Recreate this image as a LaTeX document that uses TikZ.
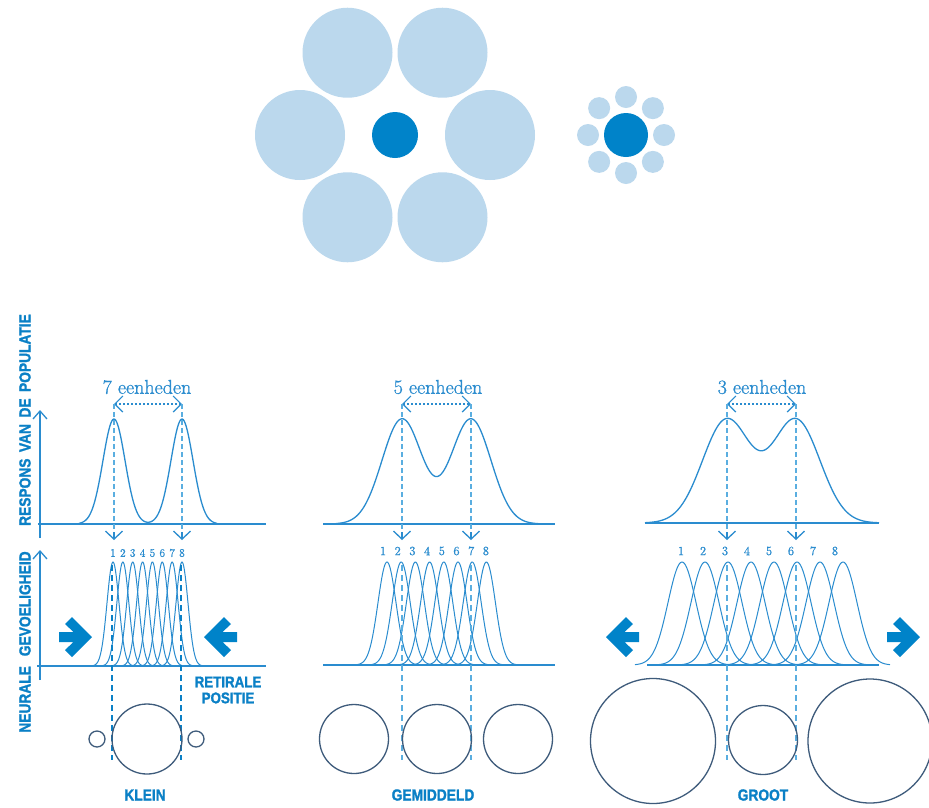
\documentclass[tikz,border=0pt]{standalone}
\usepackage{fontspec}
\newfontfamily\labfont[FakeStretch=0.86, BoldFeatures={FakeBold=1.4}]{Liberation Sans}
\newfontfamily\serfont[FakeBold=1]{Latin Modern Roman}
\usetikzlibrary{arrows.meta}
\definecolor{lightc}{HTML}{BBD8ED}
\definecolor{darkc}{HTML}{0083C9}
\definecolor{curveblue}{HTML}{2A8CCF}
\definecolor{labblue}{HTML}{0A80C6}
\definecolor{dashblue}{HTML}{5AAEE0}
\definecolor{ringc}{HTML}{3E5B7B}
\tikzset{
  curve/.style={curveblue, line width=1.3pt},
  lcurve/.style={curveblue, line width=1pt},
  axisline/.style={curveblue, line width=1.3pt},
  ring/.style={ringc, line width=1.3pt},
  axtip/.style={-{Straight Barb[length=8pt,width=14pt]}},
  dimarrow/.style={curveblue, line width=1.2pt, dash pattern=on 2pt off 2pt,
     {Straight Barb[length=8pt,width=16pt]}-{Straight Barb[length=8pt,width=16pt]}},
  vdash/.style={dashblue, line width=1.5pt, dash pattern=on 5pt off 3pt},
  ldash/.style={dashblue, line width=2pt, dash pattern=on 6pt off 4pt},
  kdash/.style={labblue, line width=2.5pt, dash pattern=on 6pt off 4pt},
  bigtxt/.style={font=\labfont\bfseries\fontsize{16}{16}\selectfont, text=labblue, inner sep=0pt},
  unittxt/.style={font=\serfont\fontsize{20}{20}\selectfont, text=curveblue, inner sep=0pt},
  numtxt/.style={font=\serfont\fontsize{12.5}{12.5}\selectfont, text=curveblue, inner sep=0pt},
  snumtxt/.style={font=\serfont\fontsize{11.5}{11.5}\selectfont, text=curveblue, inner sep=0pt},
  barrow/.pic={\fill[darkc] (0,0) -- (-20,-20) -- (-27,-13) -- (-18.5,-5) -- (-33,-5)
       -- (-33,5) -- (-18.5,5) -- (-27,13) -- (-20,20) -- cycle;}
}
\begin{document}
\begin{tikzpicture}[x=1pt,y=-1pt]
\useasboundingbox (0,0) rectangle (929,807);
\fill[white] (0,0) rectangle (929,807);

% ---------- Ebbinghaus illusion ----------
\foreach \a in {0,60,...,300}
  \fill[lightc] ({395+95*cos(\a)},{135-95*sin(\a)}) circle[radius=45pt];
\fill[darkc] (395,135) circle[radius=23pt];
\foreach \a in {0,45,...,315}
  \fill[lightc] ({626+38*cos(\a)},{135-38*sin(\a)}) circle[radius=11pt];
\fill[darkc] (626,135) circle[radius=22pt];

% ---------- axes labels ----------
\node[bigtxt, rotate=90] (ylabA) at (25,420) {RESPONS\hspace{6.5pt}VAN\hspace{6.5pt}DE\hspace{6.5pt}POPULATIE};
\node[bigtxt, rotate=90] (ylabB) at (25,642) {NEURALE\hspace{10pt}GEVOELIGHEID};

% axes of panel 1
\coordinate (axA0) at (40,538); \coordinate (axA1) at (40,410);
\coordinate (axB0) at (40,680); \coordinate (axB1) at (40,550);
\draw[axisline, axtip] (axA0) -- (axA1);
\draw[axisline, axtip] (axB0) -- (axB1);

% baselines
\draw[axisline] (38,524) -- (266,524);
\draw[axisline] (37,666) -- (266,666);
\draw[axisline] (323,524) -- (555,524);
\draw[axisline] (323,665) -- (555,665);
\draw[axisline] (645,523) -- (879,523);
\draw[axisline] (647,665) -- (879,665);

% ---------- upper population responses ----------
\draw[curve] plot[domain=79:217, samples=140]
  (\x,{524-105*(exp(-(((\x-114)/11)^2)/2)+exp(-(((\x-182)/11)^2)/2))});
\draw[curve] plot[domain=336:538, samples=160]
  (\x,{524-105*(exp(-(((\x-402)/20)^2)/2)+exp(-(((\x-471)/20)^2)/2))});
\draw[curve] plot[domain=645:879, samples=180]
  (\x,{523-103*(exp(-(((\x-726.5)/24)^2)/2)+exp(-(((\x-796)/24)^2)/2))});

% unit labels
\node[unittxt] (u1) at (147,387) {7 eenheden};
\node[unittxt] (u2) at (438,387) {5 eenheden};
\node[unittxt] (u3) at (762,387) {3 eenheden};

% dimension arrows and dashed verticals (upper)
\foreach \p/\xa/\xb in {a/114/182, b/402/471, c/727/796}{
  \coordinate (\p L) at (\xa,404); \coordinate (\p R) at (\xb,404);
  \coordinate (\p Lb) at (\xa,540); \coordinate (\p Rb) at (\xb,540);
  \draw[dimarrow] (\p L) -- (\p R);
  \draw[vdash] (\p L) -- ([yshift=4pt]\p Lb);
  \draw[vdash] (\p R) -- ([yshift=4pt]\p Rb);
  \draw[curveblue, line width=1.3pt, -{Straight Barb[length=8pt,width=17pt]}] ([yshift=8pt]\p Lb) -- (\p Lb);
  \draw[curveblue, line width=1.3pt, -{Straight Barb[length=8pt,width=17pt]}] ([yshift=8pt]\p Rb) -- (\p Rb);
}

% ---------- lower tuning curves ----------
\foreach \i in {0,...,7}{
  \pgfmathsetmacro\c{113+9.857*\i}
  \pgfmathsetmacro\lo{\c-21}\pgfmathsetmacro\hi{\c+21}
  \draw[lcurve] plot[domain=\lo:\hi, samples=60] (\x,{666-104*exp(-(((\x-\c)/6)^2)/2)});
  \pgfmathtruncatemacro\n{\i+1}
  \node[snumtxt] (na\n) at (\c,553) {\n};
}
\foreach \i in {0,...,7}{
  \pgfmathsetmacro\c{387+14.2*\i}
  \pgfmathsetmacro\lo{\c-30}\pgfmathsetmacro\hi{\c+30}
  \draw[lcurve] plot[domain=\lo:\hi, samples=70] (\x,{665-103*exp(-(((\x-\c)/9)^2)/2)});
  \pgfmathtruncatemacro\n{\i+1}
  \pgfmathsetmacro\t{383+14.7*\i}
  \node[numtxt] (nb\n) at (\t,551) {\n};
}
\foreach \i in {0,...,7}{
  \pgfmathsetmacro\c{682+23*\i}
  \pgfmathsetmacro\lo{\c-47}\pgfmathsetmacro\hi{\c+47}
  \draw[lcurve] plot[domain=\lo:\hi, samples=90] (\x,{665-103*exp(-(((\x-\c)/14)^2)/2)});
  \pgfmathtruncatemacro\n{\i+1}
  \pgfmathsetmacro\t{681+22*\i}
  \node[numtxt] (nc\n) at (\t,551) {\n};
}

% lower dashed verticals
\draw[kdash] (112,565) -- (112,760);
\draw[kdash] (181,565) -- (181,760);
\draw[ldash] (402,565) -- (402,760);
\draw[ldash] (471,565) -- (471,760);
\draw[ldash] (727,565) -- (727,760);
\draw[ldash] (796,565) -- (796,760);

% block arrows
\pic at (92,637) {barrow};
\pic[rotate=180] at (204,637) {barrow};
\pic[rotate=180] at (606,637) {barrow};
\pic at (920,637) {barrow};

% retinal position label
\node[bigtxt, align=center, font=\labfont\bfseries\fontsize{15.5}{16}\selectfont] (ret) at (228,690) {RETIRALE\\POSITIE};

% ---------- stimulus circles ----------
\draw[ring] (147,739) circle[radius=35pt];
\draw[ring] (97,739) circle[radius=8pt];
\draw[ring] (196,739) circle[radius=8pt];
\draw[ring] (354,739) circle[radius=34.5pt];
\draw[ring] (437,739) circle[radius=34.5pt];
\draw[ring] (518,739) circle[radius=34.5pt];
\draw[ring] (653,741) circle[radius=62.5pt];
\draw[ring] (763,740) circle[radius=34.5pt];
\draw[ring] (870,741) circle[radius=62pt];

% size labels
\node[bigtxt] (klein) at (145,795) {KLEIN};
\node[bigtxt] (gem) at (433,795) {GEMIDDELD};
\node[bigtxt] (groot) at (763,795) {GROOT};
\end{tikzpicture}
\end{document}
